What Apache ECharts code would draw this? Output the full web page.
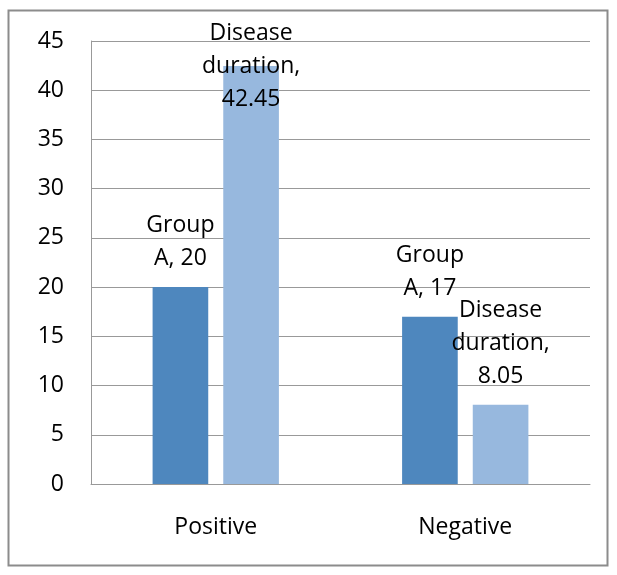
<!DOCTYPE html>
<html><head><meta charset="utf-8">
<script src="https://cdn.jsdelivr.net/npm/echarts@6/dist/echarts.min.js"></script>
<style>html,body{margin:0;padding:0;background:#fff}#c{width:617px;height:575px}</style>
</head><body><div id="c"></div>
<script>
const categories = ['Positive', 'Negative'];
const seriesNames = ['Group A', 'Disease duration'];
const groupA = [20, 17];
const diseaseDuration = [42.45, 8.05];
const yTicks = {min: 0, max: 45, interval: 5};

const FONT = 'Open Sans';
const FS = 23;
const chart = echarts.init(document.getElementById('c'), null, {renderer: 'canvas'});

function labelFor(name, val) {
  const w = name.split(' ');
  if (w.length === 2 && w[0] === 'Group') return w[0] + '\n' + w[1] + ', ' + val;
  return w.join('\n') + ',\n' + val;
}

const baseLabel = {show: true, position: 'top', distance: 12, color: '#000', fontFamily: FONT, fontSize: FS, lineHeight: 33};

chart.setOption({
  animation: false,
  graphic: [{type: 'rect', shape: {x: 8.5, y: 10.5, width: 599, height: 555}, style: {fill: 'none', stroke: '#8c8c8c', lineWidth: 2}, z: -1}],
  grid: {left: 91, right: 27, top: 41, bottom: 91},
  xAxis: {
    type: 'category', data: categories,
    axisLine: {lineStyle: {color: '#999', width: 1}}, axisTick: {show: false},
    axisLabel: {color: '#000', fontFamily: FONT, fontSize: FS, margin: 32}
  },
  yAxis: {
    type: 'value', min: yTicks.min, max: yTicks.max, interval: yTicks.interval,
    axisLine: {show: true, lineStyle: {color: '#999'}}, axisTick: {show: false},
    splitLine: {lineStyle: {color: '#999', width: 1}},
    axisLabel: {color: '#000', fontFamily: FONT, fontSize: FS, margin: 27}
  },
  series: [
    {name: seriesNames[0], type: 'bar', barWidth: '22.3%', barGap: '27%',
     itemStyle: {color: '#4E87BE'},
     label: Object.assign({}, baseLabel, {formatter: p => labelFor(p.seriesName, p.value)}),
     data: groupA},
    {name: seriesNames[1], type: 'bar', barWidth: '22.3%',
     itemStyle: {color: '#97B8DE'},
     label: Object.assign({}, baseLabel, {formatter: p => labelFor(p.seriesName, p.value)}),
     data: diseaseDuration.map((v, i) => i === 0 ? {value: v, label: {distance: -50}} : v)}
  ]
});
</script></body></html>
